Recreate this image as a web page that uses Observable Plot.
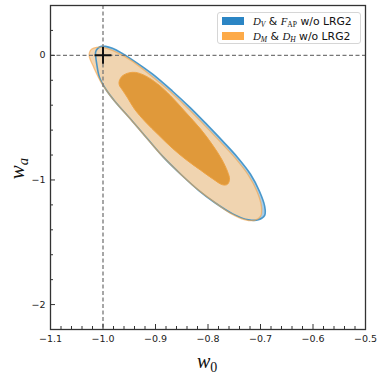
<!DOCTYPE html>
<html>
<head>
<meta charset="utf-8">
<script src="https://cdn.jsdelivr.net/npm/d3@7"></script>
<script src="https://cdn.jsdelivr.net/npm/@observablehq/plot@0.6"></script>
<style>
  html, body { margin: 0; padding: 0; background: #fff; }
  #wrap { position: relative; width: 384px; height: 374px; }
  .math { font-family: "Liberation Serif", "DejaVu Serif", serif; font-style: italic; }
  .up { font-style: normal; }
  #legend { position: absolute; left: 217px; top: 12px; width: 142px; height: 30px;
    border: 1px solid #d6d6d6; border-radius: 3px; background: rgba(255,255,255,0.9);
    font: 10.8px "DejaVu Sans", sans-serif; color: #111; }
  .row { position: absolute; left: 4px; height: 14px; display: flex; align-items: center; white-space: nowrap; }
  .patch { width: 22px; height: 8px; margin-right: 9px; }
  .lab { position: absolute; color: #111; }
  sub { font-size: 70%; vertical-align: -0.25em; line-height: 0; }
</style>
</head>
<body>
<div id="wrap"></div>
<script>
// ---- data (w0, wa) contour polygons ----
const blueOuterW0 = [-1.014,-1.010,-1.003,-0.995,-0.982,-0.965,-0.944,-0.906,-0.868,-0.833,-0.801,-0.772,-0.744,-0.719,-0.702,-0.692,-0.692,-0.704,-0.723,-0.753,-0.788,-0.818,-0.850,-0.885,-0.915,-0.946,-0.978,-0.995,-1.007,-1.012,-1.014];
const blueOuterWa = [0.028,0.056,0.072,0.072,0.056,0.020,-0.036,-0.149,-0.286,-0.423,-0.560,-0.688,-0.817,-0.954,-1.091,-1.212,-1.284,-1.320,-1.320,-1.272,-1.179,-1.083,-0.962,-0.817,-0.672,-0.519,-0.366,-0.270,-0.173,-0.068,-0.004];

const orangeOuterW0 = [-1.026,-1.022,-1.012,-0.997,-0.976,-0.948,-0.910,-0.871,-0.837,-0.805,-0.776,-0.748,-0.723,-0.706,-0.698,-0.700,-0.711,-0.729,-0.757,-0.790,-0.820,-0.852,-0.887,-0.917,-0.948,-0.980,-1.003,-1.018,-1.026];
const orangeOuterWa = [0.020,0.048,0.064,0.060,0.028,-0.036,-0.157,-0.294,-0.431,-0.568,-0.696,-0.825,-0.962,-1.099,-1.220,-1.292,-1.324,-1.320,-1.268,-1.171,-1.075,-0.954,-0.809,-0.664,-0.511,-0.358,-0.221,-0.093,-0.012];

const orangeInnerW0 = [-0.969,-0.963,-0.951,-0.938,-0.919,-0.896,-0.871,-0.843,-0.814,-0.791,-0.774,-0.763,-0.759,-0.763,-0.772,-0.790,-0.814,-0.843,-0.868,-0.894,-0.919,-0.940,-0.953,-0.963,-0.969];
const orangeInnerWa = [-0.205,-0.165,-0.141,-0.137,-0.165,-0.229,-0.326,-0.455,-0.592,-0.721,-0.833,-0.930,-0.994,-1.035,-1.039,-0.994,-0.922,-0.833,-0.745,-0.640,-0.535,-0.431,-0.342,-0.278,-0.238];

const fiducialW0 = [-1.0];
const fiducialWa = [0.0];

const xMajorTicks = [-1.1,-1.0,-0.9,-0.8,-0.7,-0.6,-0.5];
const xMinorTicks = [-1.08,-1.06,-1.04,-1.02,-0.98,-0.96,-0.94,-0.92,-0.88,-0.86,-0.84,-0.82,-0.78,-0.76,-0.74,-0.72,-0.68,-0.66,-0.64,-0.62,-0.58,-0.56,-0.54,-0.52];
const yMajorTicks = [-2,-1,0];
const yMinorTicks = [-2.2,-1.8,-1.6,-1.4,-1.2,-0.8,-0.6,-0.4,-0.2,0.2,0.4];

const seriesLabels = [
  '<span class="math">D<sub>V</sub></span> &amp; <span class="math">F<sub class="up">AP</sub></span> w/o LRG2',
  '<span class="math">D<sub>M</sub></span> &amp; <span class="math">D<sub>H</sub></span> w/o LRG2'
];
const seriesColors = ["#2b85c4", "#fdaa48"];

// ---- build ----
const poly = (xs, ys) => xs.map((x, i) => ({w0: x, wa: ys[i]}));
const blueOuter = poly(blueOuterW0, blueOuterWa);
const orangeOuter = poly(orangeOuterW0, orangeOuterWa);
const orangeInner = poly(orangeInnerW0, orangeInnerWa);
const fid = poly(fiducialW0, fiducialWa);

const fmtX = d3.format(".1f");
const fmtY = d3.format("d");

const chart = Plot.plot({
  width: 384, height: 374,
  marginLeft: 50, marginRight: 19, marginTop: 5, marginBottom: 45,
  style: {fontFamily: "DejaVu Sans, sans-serif", fontSize: "9.5px", color: "#222", background: "#fff"},
  x: {domain: [-1.1, -0.5]},
  y: {domain: [-2.2, 0.4]},
  marks: [
    Plot.line(blueOuter, {x: "w0", y: "wa", curve: "catmull-rom-closed", fill: "#a9cde6", stroke: "none"}),
    Plot.line(orangeOuter, {x: "w0", y: "wa", curve: "catmull-rom-closed", fill: "#f3d4ad", fillOpacity: 0.95, stroke: "none"}),
    Plot.line(blueOuter, {x: "w0", y: "wa", curve: "catmull-rom-closed", fill: "none", stroke: "#3a8fc7", strokeWidth: 1.6, strokeOpacity: 0.9}),
    Plot.line(orangeOuter, {x: "w0", y: "wa", curve: "catmull-rom-closed", fill: "none", stroke: "#f6a444", strokeWidth: 1.3, strokeOpacity: 0.6}),
    Plot.line(orangeInner, {x: "w0", y: "wa", curve: "catmull-rom-closed", fill: "#e0993a", stroke: "#eea343", strokeWidth: 1}),
    Plot.ruleX(fiducialW0, {stroke: "#777", strokeWidth: 1.3, strokeDasharray: "4,2.5"}),
    Plot.ruleY(fiducialWa, {stroke: "#777", strokeWidth: 1.3, strokeDasharray: "4,2.5"}),
    Plot.dot(fid, {x: "w0", y: "wa", symbol: "plus", r: 5.5, stroke: "#111", strokeWidth: 2}),
    Plot.axisX({ticks: xMajorTicks, tickSize: 0, tickPadding: 6, tickFormat: fmtX, label: null}),
    Plot.axisX({ticks: xMajorTicks, tickSize: -5, text: null, label: null, stroke: "#333"}),
    Plot.axisX({ticks: xMinorTicks, tickSize: -3, text: null, label: null, stroke: "#333"}),
    Plot.axisY({ticks: yMajorTicks, tickSize: 0, tickPadding: 5, tickFormat: fmtY, label: null}),
    Plot.axisY({ticks: yMajorTicks, tickSize: -5, text: null, label: null, stroke: "#333"}),
    Plot.axisY({ticks: yMinorTicks, tickSize: -3, text: null, label: null, stroke: "#333"}),
    Plot.frame({stroke: "#333", strokeWidth: 1.3})
  ]
});

const wrap = document.getElementById("wrap");
wrap.appendChild(chart);

// axis labels
const xl = document.createElement("div");
xl.className = "lab";
xl.style.cssText = "left:197px;top:350px;font-size:20px;";
xl.innerHTML = '<span class="math">w<sub class="up" style="font-style:normal">0</sub></span>';
wrap.appendChild(xl);

const yl = document.createElement("div");
yl.className = "lab";
yl.style.cssText = "left:7px;top:156px;font-size:21px;transform:rotate(-90deg);transform-origin:center;";
yl.innerHTML = '<span class="math">w<sub>a</sub></span>';
wrap.appendChild(yl);

// legend
const lg = document.createElement("div");
lg.id = "legend";
seriesLabels.forEach((lab, i) => {
  const r = document.createElement("div");
  r.className = "row";
  r.style.top = (1 + i * 15) + "px";
  r.innerHTML = `<div class="patch" style="background:${seriesColors[i]}"></div><span>${lab}</span>`;
  lg.appendChild(r);
});
wrap.appendChild(lg);
</script>
</body>
</html>
